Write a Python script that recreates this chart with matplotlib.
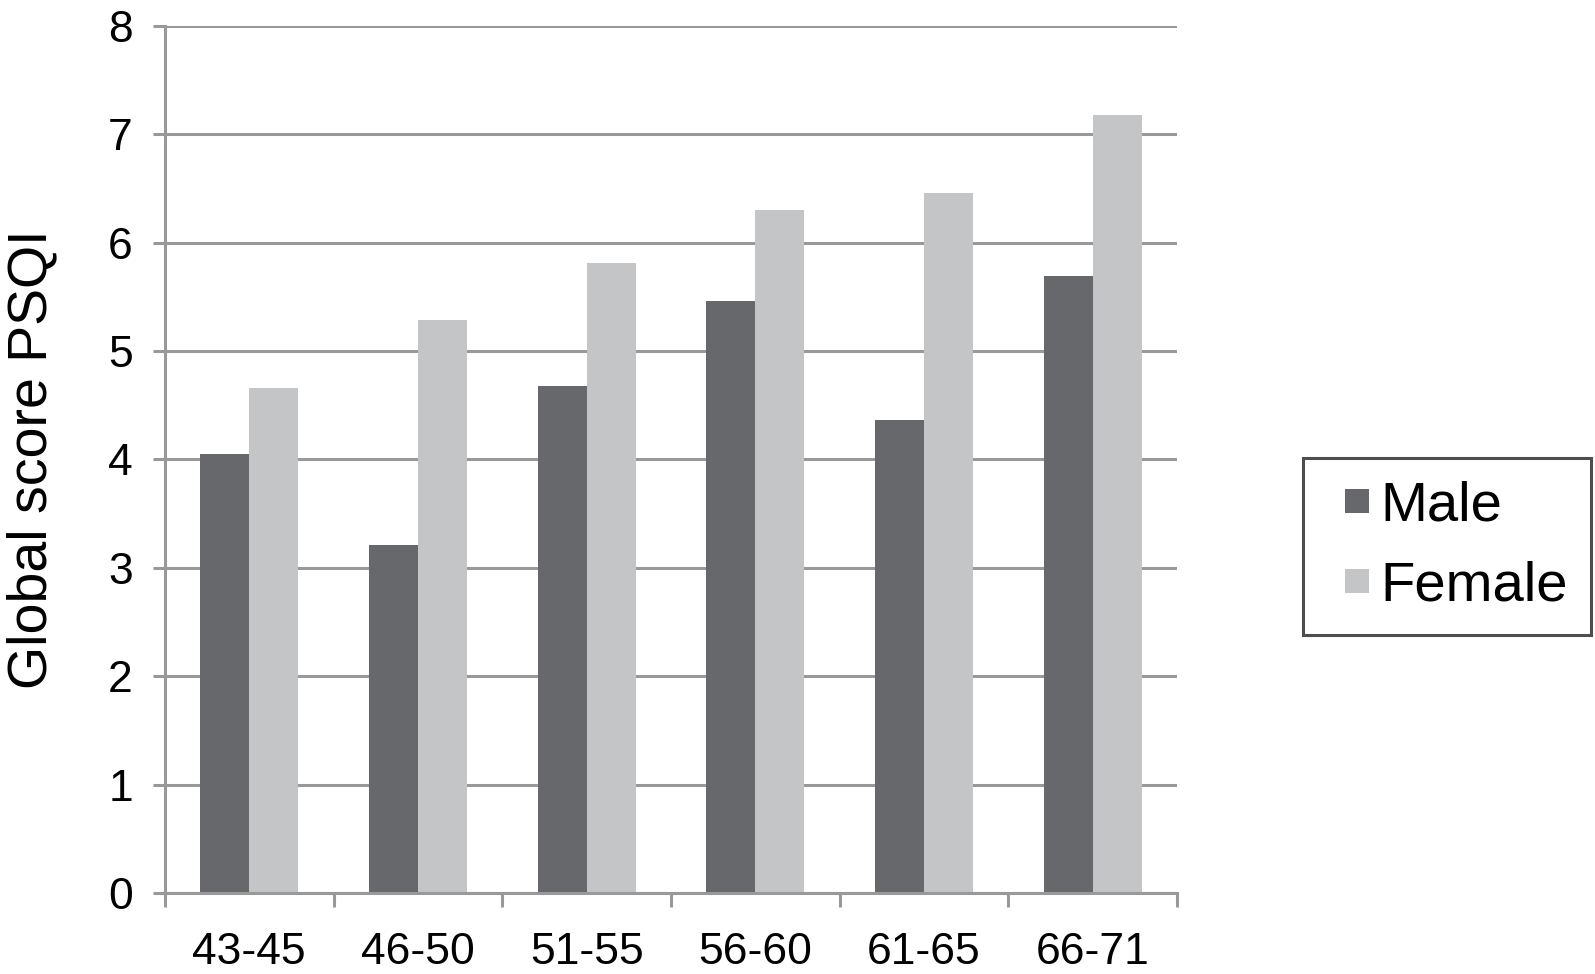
import matplotlib.pyplot as plt
import numpy as np
from matplotlib.lines import Line2D

# Data
age_groups = ["43-45", "46-50", "51-55", "56-60", "61-65", "66-71"]
male = [4.05, 3.21, 4.68, 5.46, 4.36, 5.69]
female = [4.66, 5.29, 5.81, 6.30, 6.46, 7.18]

male_color = "#67686b"
female_color = "#c4c5c7"
grid_color = "#999999"

plt.rcParams["font.family"] = ["Liberation Sans", "DejaVu Sans"]

fig = plt.figure(figsize=(15.95, 9.74), dpi=100)
ax = fig.add_axes([0.1034, 0.0832, 0.738 - 0.1034, 0.9733 - 0.0832])

x = np.arange(len(age_groups))
width = 0.29

# Gridlines under the bars
ax.set_axisbelow(True)
ax.yaxis.grid(True, color=grid_color, linewidth=2.2)

ax.bar(x - width / 2, male, width, color=male_color, label="Male")
ax.bar(x + width / 2, female, width, color=female_color, label="Female")

ax.set_xlim(-0.5, len(age_groups) - 0.5)
ax.set_ylim(0, 8)
ax.set_yticks(range(0, 9))

# Category labels centred, tick marks on category boundaries
ax.set_xticks(x)
ax.set_xticklabels(age_groups, fontsize=32)
ax.tick_params(axis="x", which="major", length=0, pad=28)
ax.set_xticks(np.arange(-0.5, len(age_groups)), minor=True)
ax.tick_params(axis="x", which="minor", length=10, width=2.2,
               color=grid_color, direction="out")
ax.tick_params(axis="y", length=9, width=2.2, color=grid_color,
               labelsize=32, pad=14)

for side in ["top", "right"]:
    ax.spines[side].set_visible(False)
for side in ["left", "bottom"]:
    ax.spines[side].set_color(grid_color)
    ax.spines[side].set_linewidth(2.2)

ax.set_ylabel("Global score PSQI", fontsize=40, labelpad=36)

# Square legend markers
handles = [
    Line2D([], [], marker="s", linestyle="none", markersize=17.5,
           markerfacecolor=male_color, markeredgewidth=0),
    Line2D([], [], marker="s", linestyle="none", markersize=17.5,
           markerfacecolor=female_color, markeredgewidth=0),
]
leg = fig.legend(
    handles,
    ["Male", "Female"],
    loc="center left",
    bbox_to_anchor=(0.817, 0.439),
    fontsize=40.5,
    frameon=True,
    fancybox=False,
    handlelength=1.1,
    handletextpad=-0.12,
    borderpad=0.4,
    borderaxespad=0,
    labelspacing=0.5,
)
leg.get_frame().set_edgecolor("#222222")
leg.get_frame().set_linewidth(2.2)

fig.savefig("out.png", dpi=100)
